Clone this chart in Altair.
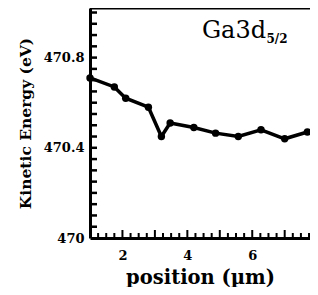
import altair as alt
import pandas as pd

# data
position = [1.0, 1.75, 2.1, 2.8, 3.2, 3.47, 4.2, 4.87, 5.57, 6.27, 7.0, 7.7]
energy = [470.71, 470.67, 470.62, 470.58, 470.45, 470.51, 470.49, 470.465, 470.45, 470.48, 470.44, 470.47]

x_label_values = [2, 4, 6]
y_label_values = [470, 470.4, 470.8]
x_minor_ticks = [1.25, 1.5, 1.75, 2.25, 2.5, 2.75, 3.25, 3.5, 3.75, 4.25,
                 4.5, 4.75, 5.25, 5.5, 5.75, 6.25, 6.5, 6.75, 7.25, 7.5, 7.75]
x_major_ticks = [2, 3, 4, 5, 6, 7]
y_minor_ticks = [470.05, 470.1, 470.15, 470.2, 470.25, 470.3, 470.35, 470.4, 470.45,
                 470.5, 470.55, 470.6, 470.65, 470.7, 470.75, 470.8, 470.85, 470.9, 470.95, 471.0]

ann_main = ["Ga3d"]
ann_main_x = [4.45]
ann_main_y = [470.887]
ann_sub = ["5/2"]
ann_sub_x = [6.44]
ann_sub_y = [470.865]

x_domain = [1.0, 7.78]
y_domain = [470.0, 471.02]

W, H = 220, 230
FONT = "DejaVu Serif"

df = pd.DataFrame({"position": position, "energy": energy})

xscale = alt.Scale(domain=x_domain, nice=False, zero=False)
yscale = alt.Scale(domain=y_domain, nice=False, zero=False)

x_main = alt.X("position:Q", scale=xscale, axis=alt.Axis(
    values=x_label_values, ticks=False, grid=False, domainWidth=3, domainColor="black",
    labelFont=FONT, labelFontWeight="bold", labelFontSize=13, labelColor="black", labelPadding=11,
    title="position (\u00b5m)", titleFont=FONT, titleFontWeight="bold", titleFontSize=19.5,
    titleColor="black", titlePadding=6))
y_main = alt.Y("energy:Q", scale=yscale, axis=alt.Axis(
    values=y_label_values, ticks=False, grid=False, domainWidth=3, domainColor="black",
    labelExpr="format(datum.value, '~f')",
    labelFont=FONT, labelFontWeight="bold", labelFontSize=13, labelColor="black", labelPadding=6,
    title="Kinetic Energy (eV)", titleFont=FONT, titleFontWeight="bold", titleFontSize=15.5,
    titleColor="black", titlePadding=10))

line = alt.Chart(df).mark_line(color="black", strokeWidth=3.5).encode(x=x_main, y=y_main)
pts = alt.Chart(df).mark_circle(color="black", size=55, opacity=1).encode(
    x=alt.X("position:Q", scale=xscale), y=alt.Y("energy:Q", scale=yscale))

# inward ticks drawn as short rules at the tick values
yt = alt.Chart(pd.DataFrame({"v": y_minor_ticks})).mark_rule(color="black", strokeWidth=2.5).encode(
    y=alt.Y("v:Q", scale=yscale), x=alt.value(0), x2=alt.value(7))
xt_minor = alt.Chart(pd.DataFrame({"v": x_minor_ticks})).mark_rule(color="black", strokeWidth=2).encode(
    x=alt.X("v:Q", scale=xscale), y=alt.value(H), y2=alt.value(H - 5))
xt_major = alt.Chart(pd.DataFrame({"v": x_major_ticks})).mark_rule(color="black", strokeWidth=2).encode(
    x=alt.X("v:Q", scale=xscale), y=alt.value(H), y2=alt.value(H - 8))
top_frame = alt.Chart(pd.DataFrame({"v": [x_domain[0]]})).mark_rule(color="black", strokeWidth=3).encode(
    x=alt.value(0), x2=alt.value(W), y=alt.value(0))

ann1 = alt.Chart(pd.DataFrame({"t": ann_main, "x": ann_main_x, "y": ann_main_y})).mark_text(
    font=FONT, fontSize=24, align="left", baseline="alphabetic", color="black").encode(
    x=alt.X("x:Q", scale=xscale), y=alt.Y("y:Q", scale=yscale), text="t:N")
ann2 = alt.Chart(pd.DataFrame({"t": ann_sub, "x": ann_sub_x, "y": ann_sub_y})).mark_text(
    font=FONT, fontSize=12, fontWeight="bold", align="left", baseline="alphabetic", color="black").encode(
    x=alt.X("x:Q", scale=xscale), y=alt.Y("y:Q", scale=yscale), text="t:N")

chart = alt.layer(line, yt, xt_minor, xt_major, top_frame, pts, ann1, ann2).properties(
    width=W, height=H,
    autosize=alt.AutoSizeParams(type="none"),
    padding={"left": 82, "top": 0, "right": 0, "bottom": 49},
).configure_view(stroke=None)

chart.save("out.html", embed_options={"renderer": "svg", "actions": False})
